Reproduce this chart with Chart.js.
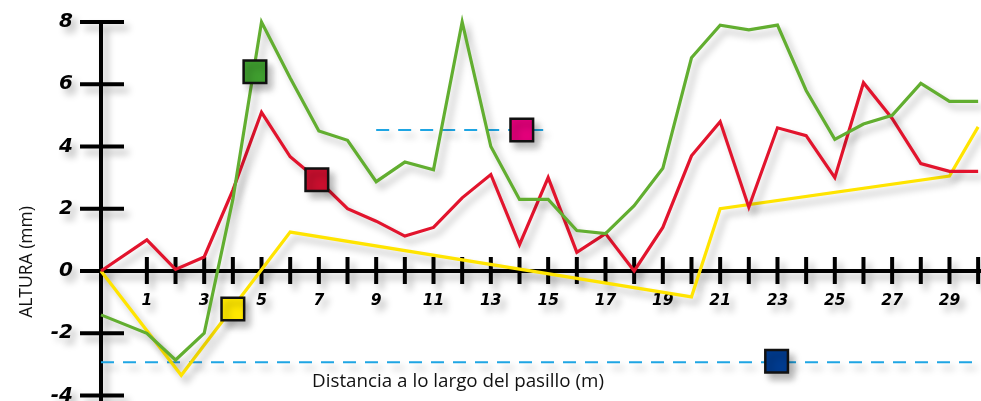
<!DOCTYPE html>
<html>
<head>
<meta charset="utf-8">
<script src="https://cdn.jsdelivr.net/npm/chart.js@4.4.1/dist/chart.umd.min.js"></script>
<style>
  html, body { margin: 0; padding: 0; background: #fff; }
  #wrap { width: 981px; height: 401px; }
</style>
</head>
<body>
<div id="wrap"><canvas id="my-chart" width="981" height="401"></canvas></div>
<script>
// distance positions (first reading sits on the vertical axis)
const distances = [-0.6, 1, 2, 3, 4, 5, 6, 7, 8, 9, 10, 11, 12, 13, 14, 15, 16, 17, 18, 19, 20, 21, 22, 23, 24, 25, 26, 27, 28, 29, 30];
const redValues = [0, 1.0, 0.05, 0.45, 2.6, 5.1, 3.67, 2.9, 2.0, 1.6, 1.12, 1.4, 2.35, 3.1, 0.85, 3.0, 0.6, 1.2, 0.0, 1.4, 3.7, 4.8, 2.05, 4.6, 4.35, 3.0, 6.05, 4.9, 3.45, 3.2, 3.2];
const greenValues = [-1.41, -2.0, -2.86, -2.0, 2.3, 8.0, 6.2, 4.5, 4.2, 2.87, 3.5, 3.25, 8.0, 4.0, 2.3, 2.3, 1.3, 1.2, 2.1, 3.3, 6.85, 7.9, 7.75, 7.9, 5.8, 4.23, 4.72, 5.0, 6.03, 5.45, 5.45];
const yellowDistances = [-0.6, 2.2, 6, 20, 21, 29, 30];
const yellowValues = [0, -3.35, 1.25, -0.83, 2.0, 3.05, 4.63];

// dashed reference levels
const upperRefX = [9, 15.1];
const upperRefY = 4.53;
const lowerRefX = [-0.6, 30.1];
const lowerRefY = -2.93;

// square markers
const markerX = [4.77, 6.93, 4.0, 14.08, 22.97];
const markerY = [6.4, 2.93, -1.22, 4.53, -2.9];
const markerColors = ['#3f9d2f', '#c80f2e', '#ffe800', '#e2007a', '#003b8e'];

// axis ticks
const yTicks = [8, 6, 4, 2, 0, -2, -4];
const xTicks = [1, 2, 3, 4, 5, 6, 7, 8, 9, 10, 11, 12, 13, 14, 15, 16, 17, 18, 19, 20, 21, 22, 23, 24, 25, 26, 27, 28, 29, 30];
const xTickLabels = [1, 3, 5, 7, 9, 11, 13, 15, 17, 19, 21, 23, 25, 27, 29];

const yTitle = 'ALTURA (mm)';
const xTitle = 'Distancia a lo largo del pasillo (m)';

const toPoints = (xs, ys) => xs.map((x, i) => ({ x: x, y: ys[i] }));

function setShadow(ctx) {
  ctx.shadowColor = 'rgba(0,0,0,0.28)';
  ctx.shadowBlur = 7;
  ctx.shadowOffsetX = 5;
  ctx.shadowOffsetY = 6;
}

const shadowPlugin = {
  id: 'shadowPlugin',
  beforeDatasetDraw(chart) {
    chart.ctx.save();
    setShadow(chart.ctx);
  },
  afterDatasetDraw(chart) {
    chart.ctx.restore();
  }
};

// hand styled axes, placed through the chart's scales
const axesPlugin = {
  id: 'axesPlugin',
  beforeDatasetsDraw(chart) {
    const ctx = chart.ctx;
    const xs = chart.scales.x;
    const ys = chart.scales.y;
    const x0 = xs.getPixelForValue(-0.6);
    const y0 = ys.getPixelForValue(0);
    ctx.save();
    setShadow(ctx);
    ctx.strokeStyle = '#000';
    ctx.lineWidth = 4;
    ctx.lineCap = 'butt';
    ctx.beginPath();
    ctx.moveTo(x0, ys.getPixelForValue(8) - 2);
    ctx.lineTo(x0, chart.height);
    ctx.moveTo(x0 - 21, y0);
    ctx.lineTo(chart.width, y0);
    yTicks.forEach(v => {
      const py = ys.getPixelForValue(v);
      ctx.moveTo(x0 - 21, py);
      ctx.lineTo(x0 + 23, py);
    });
    xTicks.forEach(v => {
      const px = xs.getPixelForValue(v);
      ctx.moveTo(px, y0 - 14);
      ctx.lineTo(px, y0 + 13);
    });
    ctx.stroke();

    ctx.fillStyle = '#000';
    ctx.font = 'italic bold 20px "DejaVu Sans"';
    ctx.textAlign = 'right';
    ctx.textBaseline = 'middle';
    yTicks.forEach(v => {
      ctx.fillText(String(v), x0 - 28, ys.getPixelForValue(v));
    });
    ctx.font = 'italic bold 15.5px "DejaVu Sans"';
    ctx.textAlign = 'center';
    xTickLabels.forEach(v => {
      ctx.fillText(String(v), xs.getPixelForValue(v), y0 + 30);
    });
    ctx.restore();

    ctx.save();
    ctx.fillStyle = '#111';
    ctx.textAlign = 'center';
    ctx.textBaseline = 'middle';
    ctx.font = '18.8px "Open Sans"';
    ctx.fillText(xTitle, 458, 382);
    ctx.font = '17.5px "Open Sans"';
    ctx.translate(27, 262);
    ctx.rotate(-Math.PI / 2);
    ctx.fillText(yTitle, 0, 0);
    ctx.restore();
  }
};

const ctx = document.getElementById('my-chart').getContext('2d');

const chart = new Chart(ctx, {
  type: 'line',
  data: {
    datasets: [
      {
        type: 'scatter',
        data: toPoints(markerX, markerY),
        pointStyle: 'rect',
        pointRadius: 16,
        pointBackgroundColor: markerColors,
        pointBorderColor: '#111',
        pointBorderWidth: 2.5,
        showLine: false,
        order: 0,
        clip: false
      },
      {
        data: toPoints(distances, greenValues),
        borderColor: '#62ae30',
        borderWidth: 3.2,
        pointRadius: 0,
        order: 1,
        clip: false
      },
      {
        data: toPoints(distances, redValues),
        borderColor: '#e2142d',
        borderWidth: 3.2,
        pointRadius: 0,
        order: 2,
        clip: false
      },
      {
        data: toPoints(yellowDistances, yellowValues),
        borderColor: '#ffe400',
        borderWidth: 3.2,
        pointRadius: 0,
        order: 3,
        clip: false
      },
      {
        data: toPoints(upperRefX, [upperRefY, upperRefY]),
        borderColor: '#1ea5e3',
        borderWidth: 2,
        borderDash: [13, 9],
        pointRadius: 0,
        order: 4,
        clip: false
      },
      {
        data: toPoints(lowerRefX, [lowerRefY, lowerRefY]),
        borderColor: '#1ea5e3',
        borderWidth: 2,
        borderDash: [13, 9],
        pointRadius: 0,
        order: 5,
        clip: false
      }
    ]
  },
  options: {
    responsive: false,
    animation: false,
    layout: { autoPadding: false, padding: { left: 101, right: 0, top: 22, bottom: 5.5 } },
    elements: { line: { tension: 0, borderJoinStyle: 'miter' } },
    scales: {
      x: { type: 'linear', min: -0.6, max: 30.1, display: false },
      y: { type: 'linear', min: -4, max: 8, display: false }
    },
    plugins: {
      legend: { display: false },
      tooltip: { enabled: false }
    }
  },
  plugins: [shadowPlugin, axesPlugin]
});
</script>
</body>
</html>
